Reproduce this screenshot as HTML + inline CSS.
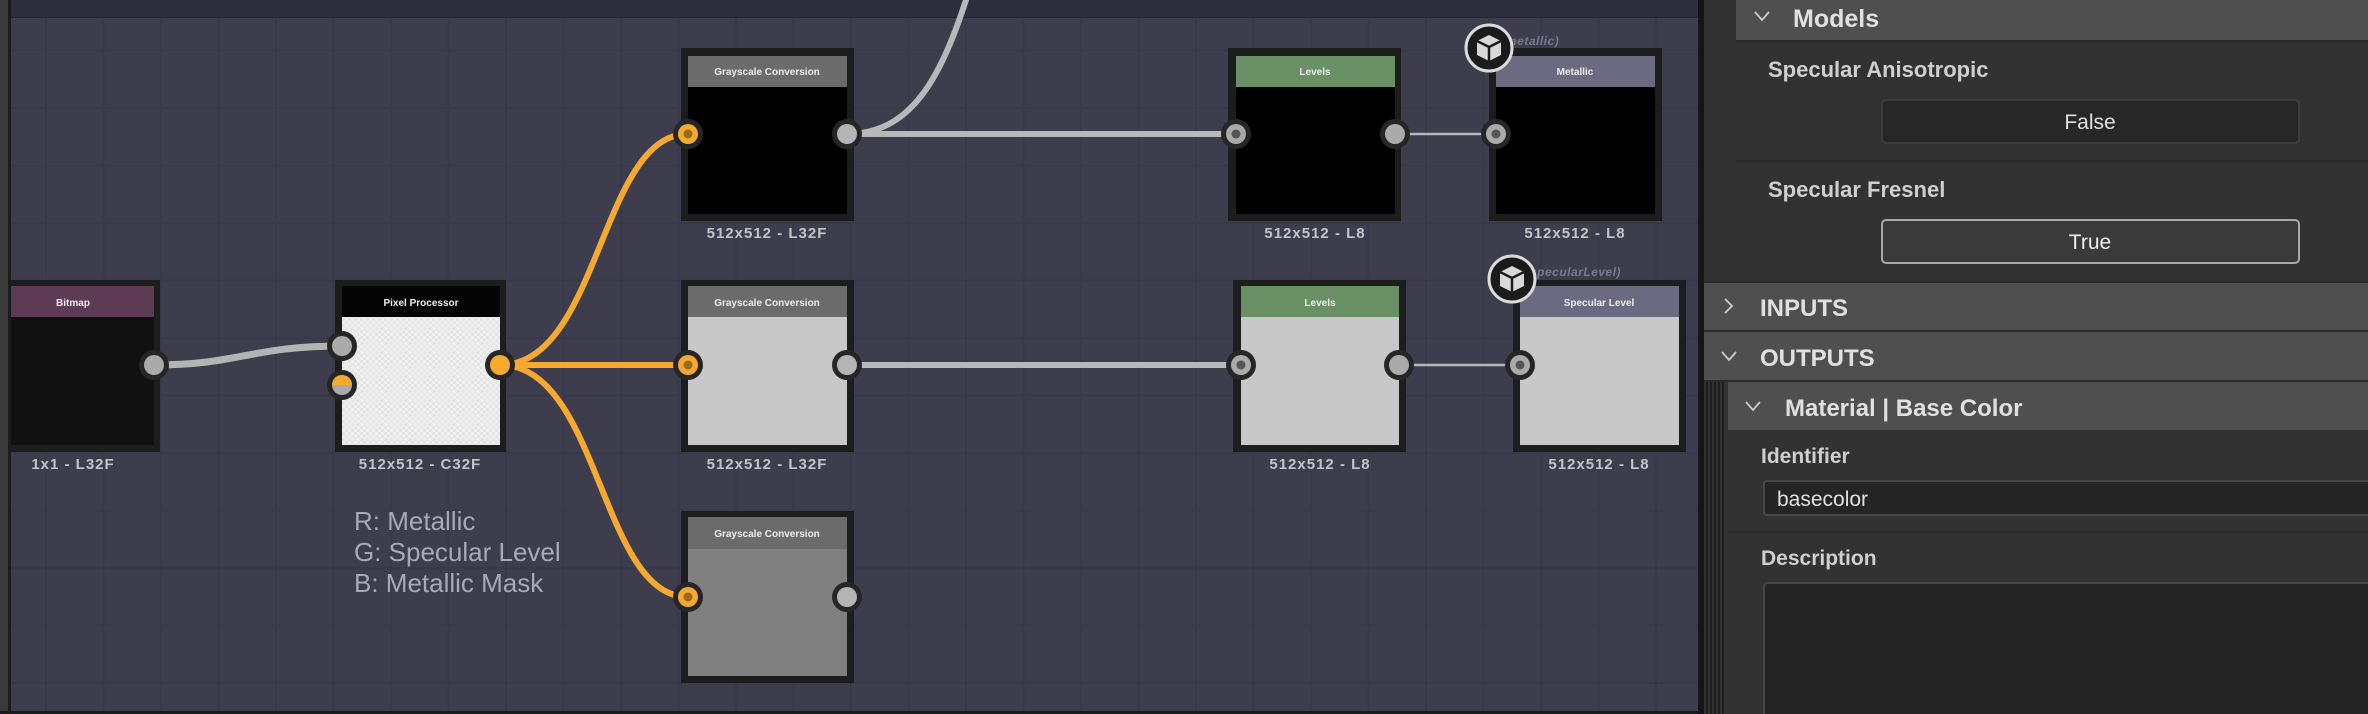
<!DOCTYPE html>
<html><head><meta charset="utf-8"><style>
html,body{margin:0;padding:0;background:#323232;}
svg{display:block;}
text{font-family:"Liberation Sans",sans-serif;}
</style></head><body>
<svg width="2368" height="714" viewBox="0 0 2368 714" xmlns="http://www.w3.org/2000/svg">
<defs>
<pattern id="grid" x="45" y="49.5" width="57.5" height="57.5" patternUnits="userSpaceOnUse">
<rect width="57.5" height="57.5" fill="#3e3d4e"/>
<rect width="2" height="57.5" fill="#3a394b"/>
<rect width="57.5" height="2" fill="#3a394b"/>
</pattern>
<pattern id="chk" width="6" height="6" patternUnits="userSpaceOnUse">
<rect width="6" height="6" fill="#efefef"/><rect width="3" height="3" fill="#e4e4e4"/><rect x="3" y="3" width="3" height="3" fill="#e4e4e4"/>
</pattern>
<g id="cube"><circle r="23" fill="#1b1b1b" stroke="#dcdcdc" stroke-width="3"/>
<path d="M0,-13 L12,-7 L12,7 L0,13 L-12,7 L-12,-7 Z" fill="#d8d8d8"/>
<path d="M-12,-7 L0,-1 L12,-7 M0,-1 L0,13" stroke="#1b1b1b" stroke-width="2.5" fill="none"/></g>
</defs>
<!-- canvas -->
<rect x="0" y="0" width="1700" height="714" fill="url(#grid)"/>
<rect x="0" y="0" width="1700" height="17" fill="#2e2d3e"/>
<rect x="0" y="17" width="1700" height="1" fill="#252433"/>
<rect x="0" y="0" width="8" height="714" fill="#3a3a3a"/>
<rect x="8" y="0" width="3" height="714" fill="#1c1c1c"/>
<rect x="0" y="711" width="1700" height="3" fill="#1a1a1a"/>
<rect x="1698" y="0" width="6" height="714" fill="#151515"/>

<!-- wires -->
<g fill="none" stroke-linecap="round">
<path d="M154,365 C240,365 250,346 342,346" stroke="#b4b4b4" stroke-width="7"/>
<path d="M500,365 C600,365 600,134 688,134" stroke="#f5a930" stroke-width="6"/>
<path d="M500,365 L688,365" stroke="#f5a930" stroke-width="6"/>
<path d="M500,365 C600,365 600,597 688,597" stroke="#f5a930" stroke-width="6"/>
<path d="M847,134 C910,134 940,80 966,0" stroke="#b8b8b8" stroke-width="6"/>
<path d="M847,134 L1236,134" stroke="#b8b8b8" stroke-width="6"/>
<path d="M847,365 L1241,365" stroke="#b8b8b8" stroke-width="6"/>
<path d="M1395,134 L1496,134" stroke="#b8b8b8" stroke-width="2.5"/>
<path d="M1399,365 L1520,365" stroke="#b8b8b8" stroke-width="2.5"/>
</g>

<!-- nodes -->
<g font-weight="bold" text-anchor="middle">
<rect x="11" y="280" width="149" height="172" fill="#1d1d1d"/>
<rect x="11" y="286" width="143" height="31" fill="#5e3b55"/>
<rect x="11" y="317" width="143" height="128" fill="#111"/>
<text x="73" y="306" font-size="10" fill="#eee">Bitmap</text>
<rect x="335" y="280" width="171" height="172" fill="#1d1d1d"/>
<rect x="342" y="286" width="158" height="31" fill="#050505"/>
<rect x="342" y="317" width="158" height="128" fill="url(#chk)"/>
<text x="421" y="306" font-size="10" fill="#eee">Pixel Processor</text>
<rect x="681" y="48" width="173" height="173" fill="#1d1d1d"/>
<rect x="688" y="56" width="159" height="31" fill="#6b6b6b"/>
<rect x="688" y="87" width="159" height="127" fill="#000"/>
<text x="767" y="75" font-size="10" fill="#eee">Grayscale Conversion</text>
<rect x="681" y="280" width="173" height="172" fill="#1d1d1d"/>
<rect x="688" y="286" width="159" height="31" fill="#6b6b6b"/>
<rect x="688" y="317" width="159" height="128" fill="#c8c8c8"/>
<text x="767" y="306" font-size="10" fill="#eee">Grayscale Conversion</text>
<rect x="681" y="511" width="173" height="172" fill="#1d1d1d"/>
<rect x="688" y="517" width="159" height="32" fill="#6b6b6b"/>
<rect x="688" y="549" width="159" height="127" fill="#808080"/>
<text x="767" y="537" font-size="10" fill="#eee">Grayscale Conversion</text>
<rect x="1228" y="48" width="173" height="173" fill="#1d1d1d"/>
<rect x="1236" y="56" width="159" height="31" fill="#6a9166"/>
<rect x="1236" y="87" width="159" height="127" fill="#000"/>
<text x="1315" y="75" font-size="10" fill="#eee">Levels</text>
<rect x="1489" y="48" width="173" height="173" fill="#1d1d1d"/>
<rect x="1496" y="56" width="159" height="31" fill="#6c6a80"/>
<rect x="1496" y="87" width="159" height="127" fill="#000"/>
<text x="1575" y="75" font-size="10" fill="#eee">Metallic</text>
<rect x="1233" y="280" width="173" height="172" fill="#1d1d1d"/>
<rect x="1241" y="286" width="158" height="31" fill="#6a9166"/>
<rect x="1241" y="317" width="158" height="128" fill="#c8c8c8"/>
<text x="1320" y="306" font-size="10" fill="#eee">Levels</text>
<rect x="1513" y="280" width="173" height="172" fill="#1d1d1d"/>
<rect x="1520" y="286" width="159" height="31" fill="#6c6a80"/>
<rect x="1520" y="317" width="159" height="128" fill="#c8c8c8"/>
<text x="1599" y="306" font-size="10" fill="#eee">Specular Level</text>
</g>

<g font-size="15" font-weight="bold" fill="#c4c4c8" text-anchor="middle" letter-spacing="1">
<text x="73" y="469">1x1 - L32F</text>
<text x="420" y="469">512x512 - C32F</text>
<text x="767" y="238">512x512 - L32F</text>
<text x="767" y="469">512x512 - L32F</text>
<text x="1315" y="238">512x512 - L8</text>
<text x="1575" y="238">512x512 - L8</text>
<text x="1320" y="469">512x512 - L8</text>
<text x="1599" y="469">512x512 - L8</text>
</g>

<g font-size="26" fill="#a9a8b6">
<text x="354" y="530">R: Metallic</text>
<text x="354" y="561">G: Specular Level</text>
<text x="354" y="592">B: Metallic Mask</text>
</g>

<g font-size="12" font-style="italic" font-weight="bold" fill="#7a798c" letter-spacing="0.5">
<text x="1506" y="45">metallic)</text>
<text x="1530" y="276">specularLevel)</text>
</g>
<use href="#cube" x="1489" y="48"/>
<use href="#cube" x="1512" y="279"/>

<!-- ports -->
<g>
<circle cx="154" cy="365" r="15" fill="#262626"/><circle cx="154" cy="365" r="10" fill="#aaa"/>
<circle cx="342" cy="346" r="15" fill="#262626"/><circle cx="342" cy="346" r="10" fill="#aaa"/>
<circle cx="342" cy="385" r="15" fill="#262626"/><circle cx="342" cy="385" r="10" fill="#aaa"/>
<path d="M332,385 A10,10 0 0 1 352,385 Z" fill="#f5a930"/>
<circle cx="500" cy="365" r="15" fill="#262626"/><circle cx="500" cy="365" r="10" fill="#f5a930"/>
<circle cx="688" cy="134" r="15" fill="#262626"/><circle cx="688" cy="134" r="10" fill="#f5a930"/><circle cx="688" cy="134" r="4.5" fill="#9a6a1c"/>
<circle cx="688" cy="365" r="15" fill="#262626"/><circle cx="688" cy="365" r="10" fill="#f5a930"/><circle cx="688" cy="365" r="4.5" fill="#9a6a1c"/>
<circle cx="688" cy="597" r="15" fill="#262626"/><circle cx="688" cy="597" r="10" fill="#f5a930"/><circle cx="688" cy="597" r="4.5" fill="#9a6a1c"/>
<circle cx="847" cy="134" r="15" fill="#262626"/><circle cx="847" cy="134" r="10" fill="#b4b4b4"/>
<circle cx="847" cy="365" r="15" fill="#262626"/><circle cx="847" cy="365" r="10" fill="#b4b4b4"/>
<circle cx="847" cy="597" r="15" fill="#262626"/><circle cx="847" cy="597" r="10" fill="#b4b4b4"/>
<circle cx="1236" cy="134" r="15" fill="#262626"/><circle cx="1236" cy="134" r="10" fill="#aaa"/><circle cx="1236" cy="134" r="4.5" fill="#555"/>
<circle cx="1395" cy="134" r="15" fill="#262626"/><circle cx="1395" cy="134" r="10" fill="#aaa"/>
<circle cx="1496" cy="134" r="15" fill="#262626"/><circle cx="1496" cy="134" r="10" fill="#aaa"/><circle cx="1496" cy="134" r="4.5" fill="#555"/>
<circle cx="1241" cy="365" r="15" fill="#262626"/><circle cx="1241" cy="365" r="10" fill="#aaa"/><circle cx="1241" cy="365" r="4.5" fill="#555"/>
<circle cx="1399" cy="365" r="15" fill="#262626"/><circle cx="1399" cy="365" r="10" fill="#aaa"/>
<circle cx="1520" cy="365" r="15" fill="#262626"/><circle cx="1520" cy="365" r="10" fill="#aaa"/><circle cx="1520" cy="365" r="4.5" fill="#555"/>
</g>

<!-- right panel -->
<rect x="1704" y="0" width="664" height="714" fill="#323232"/>
<rect x="1736" y="0" width="632" height="40" fill="#4f4f4f"/>
<rect x="1736" y="40" width="632" height="2" fill="#2a2a2a"/>
<path d="M1755,12 L1762,20 L1769,12" stroke="#ccc" stroke-width="1.8" fill="none"/>
<text x="1793" y="27" font-size="25" font-weight="bold" fill="#e0e0e0">Models</text>
<text x="1768" y="77" font-size="22" font-weight="bold" fill="#cfcfcf">Specular Anisotropic</text>
<rect x="1882" y="100" width="417" height="43" rx="4" fill="#272727" stroke="#3c3c3c" stroke-width="2"/>
<text x="2090" y="129" font-size="21" fill="#e0e0e0" text-anchor="middle">False</text>
<rect x="1736" y="160" width="632" height="2" fill="#2a2a2a"/>
<text x="1768" y="197" font-size="22" font-weight="bold" fill="#cfcfcf">Specular Fresnel</text>
<rect x="1882" y="220" width="417" height="43" rx="4" fill="#3a3a3a" stroke="#a8a8a8" stroke-width="2"/>
<text x="2090" y="249" font-size="21" fill="#eee" text-anchor="middle">True</text>

<rect x="1704" y="281" width="664" height="2" fill="#2a2a2a"/>
<rect x="1704" y="283" width="664" height="47" fill="#4f4f4f"/>
<rect x="1704" y="330" width="664" height="2" fill="#2a2a2a"/>
<path d="M1725,299 L1732,306 L1725,313" stroke="#ccc" stroke-width="1.8" fill="none"/>
<text x="1760" y="316" font-size="24" font-weight="bold" fill="#e0e0e0">INPUTS</text>
<rect x="1704" y="332" width="664" height="48" fill="#4f4f4f"/>
<rect x="1704" y="380" width="664" height="2" fill="#2a2a2a"/>
<path d="M1722,352 L1729,360 L1736,352" stroke="#ccc" stroke-width="1.8" fill="none"/>
<text x="1760" y="366" font-size="24" font-weight="bold" fill="#e0e0e0">OUTPUTS</text>
<g fill="#1e1e1e"><rect x="1706" y="382" width="2" height="332"/><rect x="1710" y="382" width="2" height="332"/><rect x="1714" y="382" width="2" height="332"/><rect x="1718" y="382" width="2" height="332"/><rect x="1722" y="382" width="2" height="332"/></g>
<rect x="1728" y="382" width="640" height="48" fill="#4f4f4f"/>
<path d="M1746,402 L1753,410 L1760,402" stroke="#ccc" stroke-width="1.8" fill="none"/>
<text x="1785" y="416" font-size="24" font-weight="bold" fill="#e0e0e0">Material | Base Color</text>
<text x="1761" y="463" font-size="21" font-weight="bold" fill="#cfcfcf">Identifier</text>
<rect x="1764" y="481" width="620" height="34" rx="3" fill="#252525" stroke="#474747" stroke-width="2"/>
<text x="1777" y="506" font-size="21" fill="#e0e0e0">basecolor</text>
<rect x="1728" y="531" width="640" height="2" fill="#2a2a2a"/>
<text x="1761" y="565" font-size="21" font-weight="bold" fill="#cfcfcf">Description</text>
<rect x="1764" y="583" width="620" height="150" rx="3" fill="#252525" stroke="#474747" stroke-width="2"/>
</svg>
</body></html>
